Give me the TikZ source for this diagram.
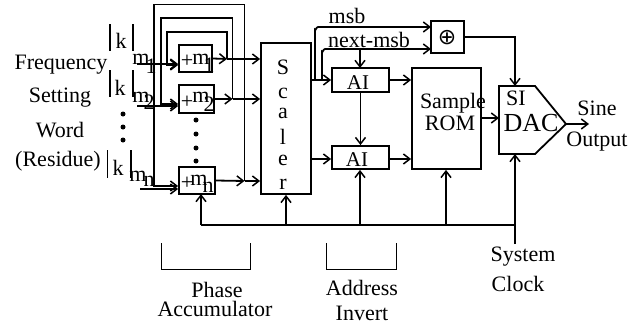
\documentclass[tikz,border=0pt]{standalone}
\usepackage{fontspec}
\setmainfont{Liberation Serif}
\newfontfamily\symfont{DejaVu Sans}
\usetikzlibrary{arrows.meta}
\tikzset{
  x=1pt,y=-1pt,
  wire/.style={line width=1.8pt,line join=miter},
  arr/.style={wire,-{Straight Barb[length=6.5pt,width=10pt,line width=1.5pt]}},
  box/.style={draw,line width=1.8pt,inner sep=0pt,fill=none},
  txt/.style={font=\fontsize{22}{22}\selectfont,inner sep=0pt,anchor=center},
  thinl/.style={line width=0.9pt},
  dotm/.style={circle,fill=black,inner sep=0pt,minimum size=5pt}
}
\begin{document}
\begin{tikzpicture}
\useasboundingbox (0,0) rectangle (640,324);
% blocks
\node[box,minimum width=33pt,minimum height=27pt] (add1) at (195.5,58.5) {};
\node[box,minimum width=35pt,minimum height=28pt] (add2) at (196.5,99) {};
\node[box,minimum width=36pt,minimum height=27pt] (addn) at (197,180.5) {};
\node[box,minimum width=50pt,minimum height=151pt] (scaler) at (286,118.5) {};
\node[box,minimum width=57pt,minimum height=24pt] (ai1) at (360.5,80) {};
\node[box,minimum width=57pt,minimum height=23pt] (ai2) at (360.5,157.5) {};
\node[box,minimum width=69pt,minimum height=101pt] (rom) at (446.5,118.5) {};
\node[box,minimum width=33pt,minimum height=32pt] (xor) at (447.5,37) {};
\coordinate (dacsw) at (499,154);
\coordinate (dacnw) at (499,86);
\coordinate (dactip) at (566,124);
\draw[line width=1.8pt,line join=miter] (dacnw) -- (535,86) -- (dactip) -- (535,154) -- (dacsw) -- cycle;
% left labels
\node[txt] (l1) at (61,65) {Frequency};
\node[txt] (l2) at (60,98) {Setting};
\node[txt] (l3) at (60,130) {Word};
\node[txt] (l4) at (58,161) {(Residue)};
% |k| m
\draw[wire] (110,24) -- (110,51) (133,24) -- (133,51);
\draw[wire] (110,70) -- (110,97) (133,70) -- (133,97);
\draw[wire] (107.5,150) -- (107.5,178) (131,150) -- (131,178);
\node[txt] (k1) at (121,41) {k};
\node[txt] (k2) at (120,88) {k};
\node[txt] (k3) at (118,168) {k};
\node[txt] (m1) at (141,59) {m};
\node[txt] (s1) at (151,66) {1};
\node[txt] (m2) at (141,97) {m};
\node[txt] (s2) at (149,102) {2};
\node[txt] (m3) at (138,176) {m};
\node[txt] (s3) at (149,181) {n};
\node[dotm] (d1) at (123,114) {};
\node[dotm] (d2) at (123,127) {};
\node[dotm] (d3) at (123,140) {};
\node[dotm] (d4) at (196,120) {};
\node[dotm] (d5) at (196,134) {};
\node[dotm] (d6) at (196,148) {};
\node[dotm] (d7) at (196,161) {};
% adder labels
\node[txt] (p1) at (187,61) {+};
\node[txt] (a1m) at (201,59) {m};
\node[txt] (a1s) at (209,65) {1};
\node[txt] (p2) at (187,102) {+};
\node[txt] (a2m) at (201,97) {m};
\node[txt] (a2s) at (209,104) {2};
\node[txt] (p3) at (187,183) {+};
\node[txt] (a3m) at (199,180) {m};
\node[txt] (a3s) at (208,187) {n};
% scaler letters
\node[txt] (sa) at (283,67) {S};
\node[txt] (sb) at (283,93) {c};
\node[txt] (sc) at (283,113) {a};
\node[txt] (sd) at (283,137) {l};
\node[txt] (se) at (283,160) {e};
\node[txt] (sf) at (283,184) {r};
% other labels
\node[txt] (msb) at (347,16) {msb};
\node[txt] (nmsb) at (369,40) {next-msb};
\node[txt,font=\fontsize{21}{21}\selectfont] (ai1t) at (358,83) {AI};
\node[txt,font=\fontsize{21}{21}\selectfont] (ai2t) at (357,160) {AI};
\node[txt] (rom1) at (453,103) {Sample};
\node[txt] (rom2) at (450,123) {ROM};
\node[txt,font=\symfont\fontsize{22}{22}\selectfont] (xort) at (447,38) {⊕};
\node[txt] (si) at (516,98) {SI};
\node[txt,font=\fontsize{26}{26}\selectfont] (dact) at (531,123) {DAC};
\node[txt] (sine) at (597,108) {Sine};
\node[txt] (out) at (597,142) {Output};
\node[txt] (sys) at (523,257) {System};
\node[txt] (clk) at (518,284) {Clock};
\node[txt] (ph) at (217,290) {Phase};
\node[txt] (acc) at (215,309) {Accumulator};
\node[txt] (addr) at (362,288) {Address};
\node[txt] (inv) at (362,313.5) {Invert};
% feedback loops
\coordinate (o1) at (227,59);
\coordinate (o2) at (232.5,99);
\coordinate (o3) at (244.5,181);
\draw[arr] (o1) |- (167,32) |- ([yshift=-6.5pt]add1.west);
\draw[arr] (o2) |- (161,18) |- ([yshift=-5pt]add2.west);
\draw[arr] (o3) |- (154,4.5) |- ([yshift=-5.5pt]addn.west);
% inputs
\coordinate (i1) at (137,64);
\coordinate (i2) at (137,106);
\coordinate (i3) at (140,189);
\draw[arr] (i1) -- (i1 -| add1.west);
\draw[arr] (i2) -- (i2 -| add2.west);
\draw[arr] (i3) -- (i3 -| addn.west);
% outputs
\draw[arr] (add1.east) -- (o1);
\draw[arr] (o1) -- (o1 -| scaler.west);
\draw[arr] (add2.east) -- (o2);
\draw[arr] (o2) -- (o2 -| scaler.west);
\draw[arr] (addn.east) -- (o3);
\draw[arr] (o3) -- (o3 -| scaler.west);
% scaler outputs
\coordinate (sq1) at (311,80);
\coordinate (sq2) at (311,159);
\draw[arr] (sq1) -- (ai1.west);
\draw[arr] (sq2) -- (sq2 -| ai2.west);
\draw[arr] (315,80) -- (315,30) to[out=-90,in=180] (318,27) -- (431,27);
\draw[arr] (322,80) -- (322,52) to[out=-90,in=180] (325,49) -- (431,49);
\draw[arr] (360,49) -- (360,68);
\draw[arr] (ai1.south) -- (ai2.north);
\draw[arr] (ai1.east) -- (ai1.east -| rom.west);
\coordinate (r2) at (389,159);
\draw[arr] (r2) -- (r2 -| rom.west);
\coordinate (r3) at (481,118);
\draw[arr] (r3) -- (499,118);
\draw[arr] (xor.east) -| (515,86);
\draw[arr] (dactip) -- (589,124);
% clock bus
\coordinate (b0) at (201,225);
\coordinate (b1) at (286,225);
\coordinate (b2) at (360,225);
\coordinate (b3) at (446,225);
\coordinate (b4) at (515,225);
\coordinate (ck) at (515,244);
\draw[wire] (b0) -- (b4);
\draw[arr] (b0) -- (201,194);
\draw[arr] (b1) -- (b1 |- scaler.south);
\draw[arr] (b2) -- (b2 |- ai2.south);
\draw[arr] (b3) -- (b3 |- rom.south);
\draw[arr] (ck) -- (515,154);
% braces
\draw[thinl] (161,243) -- (161,269) -- (250.5,269) -- (250.5,243);
\draw[thinl] (326,243) -- (326,269) -- (396,269) -- (396,243);
\end{tikzpicture}
\end{document}
